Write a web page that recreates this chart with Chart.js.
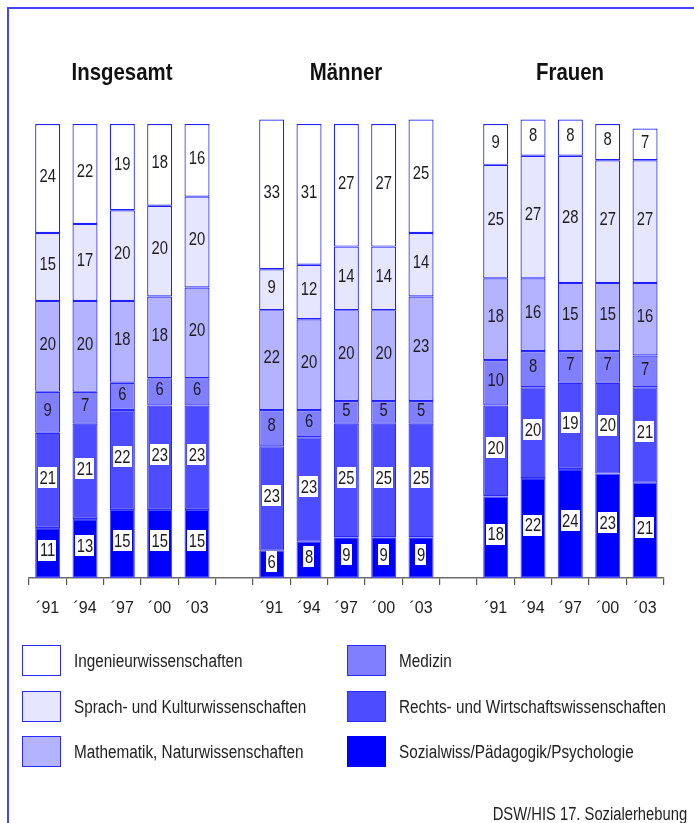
<!DOCTYPE html>
<html>
<head>
<meta charset="utf-8">
<script src="https://cdn.jsdelivr.net/npm/chart.js@4"></script>
<style>
  html, body { margin: 0; padding: 0; background: #fff; }
  body { width: 694px; height: 823px; position: relative; overflow: hidden;
         font-family: "Liberation Sans", Arial, sans-serif; color: #222; }
  #frame { position: absolute; left: 7px; top: 7px; width: 800px; height: 900px;
           border-left: 2px solid #4646ff; border-top: 2px solid #4646ff; }
  canvas { position: absolute; left: 0; top: 0; }
  .title { position: absolute; top: 56px; width: 200px; text-align: center; font-weight: bold;
           font-size: 24px; line-height: 32px; color: #111; transform: scaleX(0.85); transform-origin: center; }
  .leg { position: absolute; font-size: 18px; line-height: 20px; color: #222; white-space: nowrap;
         transform: scaleX(0.85); transform-origin: left center; }
  .sw { position: absolute; width: 37px; height: 29px; border: 1px solid #2a2aff; }
  #source { position: absolute; right: 7px; top: 804px; font-size: 18px; line-height: 20px; color: #222;
            white-space: nowrap; transform: scaleX(0.82); transform-origin: right center; }
</style>
</head>
<body>
<div id="frame"></div>
<canvas id="c" width="694" height="823"></canvas>
<div id="titles"></div>
<div id="legend"></div>
<div id="source">DSW/HIS 17. Sozialerhebung</div>
<script>
// ---- data ----
const groups = ['Insgesamt', 'Männer', 'Frauen'];
const years = ['´91', '´94', '´97', '´00', '´03'];
const seriesNames = [
  'Sozialwiss/Pädagogik/Psychologie',
  'Rechts- und Wirtschaftswissenschaften',
  'Medizin',
  'Mathematik, Naturwissenschaften',
  'Sprach- und Kulturwissenschaften',
  'Ingenieurwissenschaften'
];
// values per group (Insgesamt, Männer, Frauen), each by year
const sozial     = [[11, 13, 15, 15, 15], [6, 8, 9, 9, 9],      [18, 22, 24, 23, 21]];
const rechts     = [[21, 21, 22, 23, 23], [23, 23, 25, 25, 25], [20, 20, 19, 20, 21]];
const medizin    = [[9, 7, 6, 6, 6],      [8, 6, 5, 5, 5],      [10, 8, 7, 7, 7]];
const mathe      = [[20, 20, 18, 18, 20], [22, 20, 20, 20, 23], [18, 16, 15, 15, 16]];
const sprach     = [[15, 17, 20, 20, 20], [9, 12, 14, 14, 14],  [25, 27, 28, 27, 27]];
const ingenieur  = [[24, 22, 19, 18, 16], [33, 31, 27, 27, 25], [9, 8, 8, 8, 7]];

// ---- build category axis with an empty slot between groups ----
const labels = [];
groups.forEach((g, gi) => { if (gi > 0) labels.push(''); years.forEach(y => labels.push(y)); });
function flat(arr) {
  const out = [];
  arr.forEach((grp, gi) => { if (gi > 0) out.push(null); grp.forEach(v => out.push(v)); });
  return out;
}
const seriesData = [sozial, rechts, medizin, mathe, sprach, ingenieur];
const fills = ['#0000ff', '#4d4dff', '#8080ff', '#b3b3ff', '#e6e6ff', '#ffffff'];
const borders = ['#4a4aff', '#2a2aff', '#2a2aff', '#1f1fff', '#1f1fff', '#1f1fff'];
const boxed = [true, true, false, false, false, true];

const FONT = '"Liberation Sans", Arial, sans-serif';

const datasets = seriesData.map((s, i) => ({
  label: seriesNames[i],
  data: flat(s),
  backgroundColor: fills[i],
  borderColor: borders[i],
  borderWidth: 1.2,
  borderSkipped: false,
  barPercentage: 0.67,
  categoryPercentage: 1.0,
  clip: { left: 5, right: 5, top: 6, bottom: 5 },
  labelBox: boxed[i]
}));

const SX = 0.78; // horizontal condensing of label glyphs
const valueLabels = {
  id: 'valueLabels',
  afterDatasetsDraw(chart) {
    const ctx = chart.ctx;
    ctx.save();
    ctx.font = '19px ' + FONT;
    ctx.textAlign = 'center';
    ctx.textBaseline = 'middle';
    chart.data.datasets.forEach((ds, di) => {
      const meta = chart.getDatasetMeta(di);
      meta.data.forEach((bar, i) => {
        const v = ds.data[i];
        if (v == null) return;
        const y = (bar.y + bar.base) / 2 - 3;
        const t = String(v);
        const w = ctx.measureText(t).width * SX;
        if (ds.labelBox) {
          ctx.fillStyle = '#ffffff';
          ctx.fillRect(Math.round(bar.x - w / 2 - 1.5), Math.round(y - 10.5), Math.round(w + 3), 21);
        }
        ctx.save();
        ctx.translate(bar.x, y + 1);
        ctx.scale(SX, 1);
        ctx.fillStyle = '#1c1c1c';
        ctx.fillText(t, 0, 0);
        ctx.restore();
      });
    });
    ctx.restore();
  }
};

new Chart(document.getElementById('c'), {
  type: 'bar',
  data: { labels, datasets },
  options: {
    responsive: false,
    devicePixelRatio: 1,
    animation: false,
    layout: { padding: { left: 29, right: 30.3, top: 124, bottom: 200 } },
    plugins: { legend: { display: false }, tooltip: { enabled: false } },
    scales: {
      x: {
        stacked: true,
        offset: true,
        afterFit: (scale) => { scale.height = 45; },
        border: { color: '#6a6a6a', width: 1.5 },
        grid: { display: true, drawOnChartArea: false, drawTicks: true, tickLength: 7, color: '#555', lineWidth: 1.2, offset: true },
        ticks: { font: { size: 16, family: FONT }, color: '#222', padding: 14, maxRotation: 0, autoSkip: false }
      },
      y: { stacked: true, display: false, min: 0, max: 100 }
    }
  },
  plugins: [valueLabels]
});

// ---- titles (HTML text) ----
const titleCenters = [122, 346, 570];
const tEl = document.getElementById('titles');
groups.forEach((g, i) => {
  const d = document.createElement('div');
  d.className = 'title';
  d.style.left = (titleCenters[i] - 100) + 'px';
  d.textContent = g;
  tEl.appendChild(d);
});

// ---- legend (HTML) ----
const legendOrder = [5, 4, 3, 2, 1, 0];
const lEl = document.getElementById('legend');
legendOrder.forEach((si, k) => {
  const col = Math.floor(k / 3), row = k % 3;
  const sx = col === 0 ? 22 : 347, tx = col === 0 ? 74 : 399;
  const sy = 645 + row * 45.5;
  const sw = document.createElement('div');
  sw.className = 'sw';
  sw.style.left = sx + 'px'; sw.style.top = sy + 'px';
  sw.style.background = fills[si];
  sw.style.borderColor = si === 0 ? '#0000ff' : '#2a2aff';
  lEl.appendChild(sw);
  const tx_ = document.createElement('div');
  tx_.className = 'leg';
  tx_.style.left = tx + 'px'; tx_.style.top = (sy + 6) + 'px';
  tx_.textContent = seriesNames[si];
  lEl.appendChild(tx_);
});
</script>
</body>
</html>
